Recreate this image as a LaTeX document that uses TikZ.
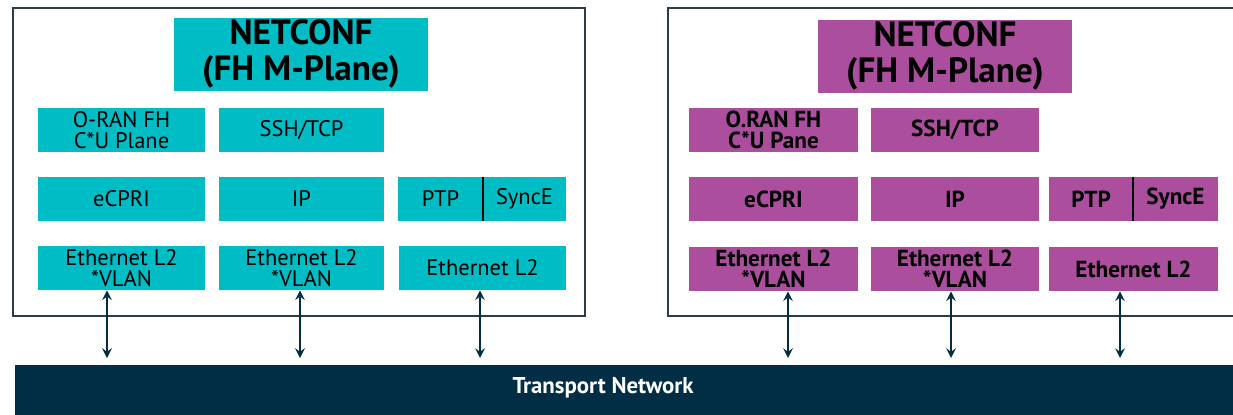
\documentclass[tikz,border=0pt]{standalone}
\usepackage{fontspec}
\setmainfont{PT Sans}
\usepackage{tikz}
\usetikzlibrary{positioning,arrows}

\definecolor{fhteal}{RGB}{0,188,196}
\definecolor{fhpurple}{RGB}{170,78,157}
\definecolor{transnavy}{RGB}{2,46,69}
\definecolor{framegray}{RGB}{45,60,75}

\begin{document}
\begin{tikzpicture}[x=0.02cm,y=-0.02cm,
                layer/.style={rectangle,inner sep=0,align=center,minimum height=44*0.02cm,
                    font=\fontsize{12.8}{12}\selectfont},
                tealbox/.style={layer,fill=fhteal},
                purplebox/.style={layer,fill=fhpurple,font=\fontsize{13.2}{12}\selectfont\bfseries},
                titlebox/.style={rectangle,inner sep=0,align=center,minimum width=254*0.02cm,
                    minimum height=73*0.02cm,font=\fontsize{20}{20.5}\selectfont\bfseries},
                link/.style={stealth-stealth,draw=transnavy,line width=1.4pt},
            ]
                \useasboundingbox (0,0) rectangle (1233,414);
                \clip (0,0) rectangle (1233,414);

% outer frames
                \draw[framegray,line width=0.6pt] (13,8) rectangle (585,316);
                \draw[framegray,line width=0.6pt] (668,8) rectangle (1250,316);

% left stack
                \node[titlebox,fill=fhteal] (lnet) at (301,54) {NETCONF\\(FH M-Plane)};
                \node[tealbox,minimum width=167*0.02cm] (loran) at (121.5,130) {O-RAN FH\\C*U Plane};
                \node[tealbox,minimum width=165*0.02cm] (lssh) at (301.5,130) {SSH/TCP};
                \node[tealbox,minimum width=167*0.02cm] (lecpri) at (121.5,199) {eCPRI};
                \node[tealbox,minimum width=165*0.02cm] (lip) at (301.5,199) {IP};
                \node[tealbox,minimum width=85*0.02cm] (lptp) at (440.5,199) {PTP};
                \node[tealbox,minimum width=83*0.02cm] (lsync) at (524.5,199) {SyncE};
                \node[tealbox,minimum width=167*0.02cm] (leth1) at (121.5,268) {Ethernet L2\\*VLAN};
                \node[tealbox,minimum width=165*0.02cm] (leth2) at (301.5,268) {Ethernet L2\\*VLAN};
                \node[tealbox,minimum width=167*0.02cm] (leth3) at (482.5,268) {Ethernet L2};
                \draw[black,line width=1pt] (lptp.north east) -- (lptp.south east);

% right stack
                \node[titlebox,fill=fhpurple] (rnet) at (945,56) {NETCONF\\(FH M-Plane)};
                \node[purplebox,minimum width=169*0.02cm] (roran) at (773.5,130) {O.RAN FH\\C*U Pane};
                \node[purplebox,minimum width=168*0.02cm] (rssh) at (955,130) {SSH/TCP};
                \node[purplebox,minimum width=169*0.02cm] (recpri) at (773.5,199) {eCPRI};
                \node[purplebox,minimum width=168*0.02cm] (rip) at (955,199) {IP};
                \node[purplebox,minimum width=84*0.02cm] (rptp) at (1091,199) {PTP};
                \node[purplebox,minimum width=85*0.02cm] (rsync) at (1175.5,199) {SyncE};
                \node[purplebox,minimum width=169*0.02cm] (reth1) at (773.5,269) {Ethernet L2\\*VLAN};
                \node[purplebox,minimum width=168*0.02cm] (reth2) at (955,269) {Ethernet L2\\*VLAN};
                \node[purplebox,minimum width=169*0.02cm] (reth3) at (1133.5,269) {Ethernet L2};
                \draw[black,line width=1pt] (rptp.north east) -- (rptp.south east);

% transport
                \node[rectangle,fill=transnavy,inner sep=0,minimum width=1240*0.02cm,minimum height=50*0.02cm,
                    anchor=north west] (trans) at (15,365) {};
                \node[text=white,font=\fontsize{13}{14}\selectfont\bfseries] (translabel) at (603,388) {Transport Network};
                \coordinate (tl1) at (107,358);
                \coordinate (tl2) at (300,358);
                \coordinate (tl3) at (480,358);
                \coordinate (tr1) at (788,358);
                \coordinate (tr2) at (951,358);
                \coordinate (tr3) at (1120,358);
                \draw[link] (leth1.south -| tl1) -- (tl1);
                \draw[link] (leth2.south -| tl2) -- (tl2);
                \draw[link] (leth3.south -| tl3) -- (tl3);
                \draw[link] (reth1.south -| tr1) -- (tr1);
                \draw[link] (reth2.south -| tr2) -- (tr2);
                \draw[link] (reth3.south -| tr3) -- (tr3);
            \end{tikzpicture}
\end{document}
